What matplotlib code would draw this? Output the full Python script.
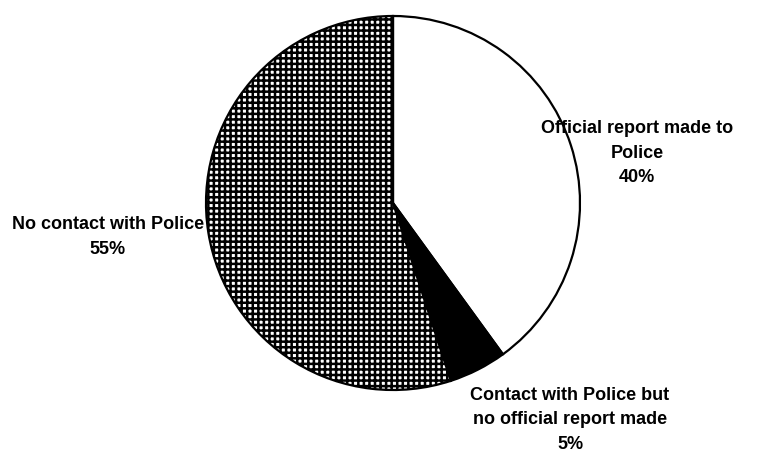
import matplotlib.pyplot as plt

# Share of incidents by contact with police
labels = ['Official report made to\nPolice\n40%',
          'Contact with Police but\nno official report made\n5%',
          'No contact with Police\n55%']
shares = [40, 5, 55]
faces = ['white', 'black', 'white']
hatches = [None, None, '+++']

plt.rcParams['hatch.linewidth'] = 1.8
plt.rcParams['font.family'] = ['Liberation Sans', 'DejaVu Sans']

fig = plt.figure(figsize=(7.77, 4.53), dpi=100)
ax = fig.add_axes([0, 0, 1, 1])

R = 187.0
cx, cy = 393.0, 203.0
wedges, _ = ax.pie(shares, startangle=90, counterclock=False, radius=1,
                   colors=faces,
                   wedgeprops=dict(edgecolor='black', linewidth=1.6))
for w, h in zip(wedges, hatches):
    if h:
        w.set_hatch(h)

ax.set_xlim(-cx / R, (777 - cx) / R)
ax.set_ylim(-(453 - cy) / R, cy / R)
ax.set_aspect('auto')
ax.axis('off')

def px(x, y):
    return (x - cx) / R, (cy - y) / R

txt = dict(ha='center', va='center', fontsize=13, fontweight='bold', linespacing=1.55)
ax.text(*px(637, 153), labels[0], **txt)
ax.text(*px(570, 420), labels[1], **txt)
ax.text(*px(108, 237), labels[2], **txt)

fig.savefig('out.png', dpi=100)
